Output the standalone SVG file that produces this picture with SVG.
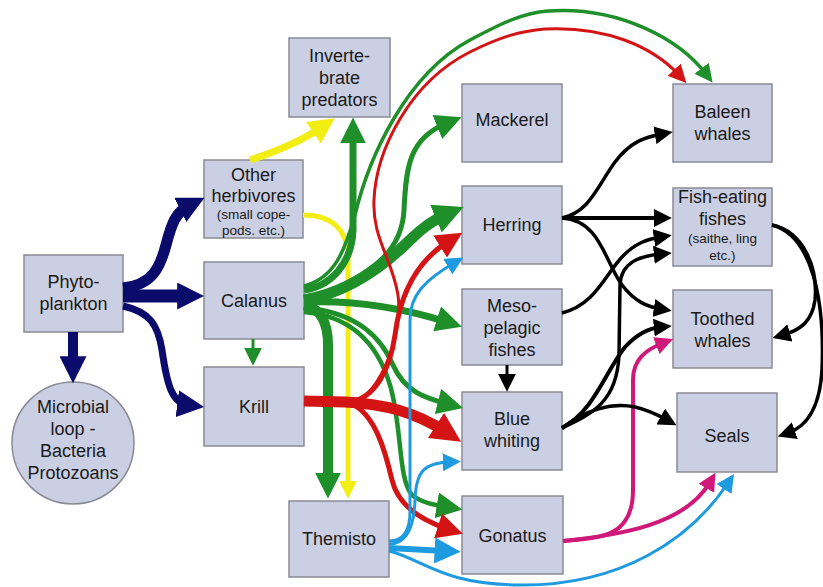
<svg xmlns="http://www.w3.org/2000/svg" width="823" height="587" viewBox="0 0 823 587">
<style>
.box{fill:#cbcfe3;stroke:#8a8a96;stroke-width:1.5}
.t{font-family:"Liberation Sans",Arial,sans-serif;font-size:18px;fill:#1a1a1a;text-anchor:middle}
.s{font-size:13.5px}
.c{fill:none;stroke-linecap:butt}
.navy{stroke:#0b0b6b}.green{stroke:#1f8f2a}.yellow{stroke:#f2ee14}.red{stroke:#d41414}.blue{stroke:#1e9be0}.mag{stroke:#d0187a}.black{stroke:#000}
</style>
<defs>
<marker id="nL" viewBox="0 0 10 10" refX="4" refY="5" markerWidth="27" markerHeight="27" markerUnits="userSpaceOnUse" orient="auto"><path d="M0,0 L10,5 L0,10 z" fill="#0b0b6b"/></marker>
<marker id="gM" viewBox="0 0 10 10" refX="4" refY="5" markerWidth="18" markerHeight="18" markerUnits="userSpaceOnUse" orient="auto"><path d="M0,0 L10,5 L0,10 z" fill="#1f8f2a"/></marker>
<marker id="gL" viewBox="0 0 10 10" refX="4" refY="5" markerWidth="26" markerHeight="26" markerUnits="userSpaceOnUse" orient="auto"><path d="M0,0 L10,5 L0,10 z" fill="#1f8f2a"/></marker>
<marker id="gX" viewBox="0 0 10 10" refX="4" refY="5" markerWidth="30" markerHeight="30" markerUnits="userSpaceOnUse" orient="auto"><path d="M0,0 L10,5 L0,10 z" fill="#1f8f2a"/></marker>
<marker id="yM" viewBox="0 0 10 10" refX="4" refY="5" markerWidth="18" markerHeight="18" markerUnits="userSpaceOnUse" orient="auto"><path d="M0,0 L10,5 L0,10 z" fill="#f2ee14"/></marker>
<marker id="yL" viewBox="0 0 10 10" refX="4" refY="5" markerWidth="26" markerHeight="26" markerUnits="userSpaceOnUse" orient="auto"><path d="M0,0 L10,5 L0,10 z" fill="#f2ee14"/></marker>
<marker id="rM" viewBox="0 0 10 10" refX="4" refY="5" markerWidth="18" markerHeight="18" markerUnits="userSpaceOnUse" orient="auto"><path d="M0,0 L10,5 L0,10 z" fill="#d41414"/></marker>
<marker id="rL" viewBox="0 0 10 10" refX="4" refY="5" markerWidth="26" markerHeight="26" markerUnits="userSpaceOnUse" orient="auto"><path d="M0,0 L10,5 L0,10 z" fill="#d41414"/></marker>
<marker id="rX" viewBox="0 0 10 10" refX="4" refY="5" markerWidth="30" markerHeight="30" markerUnits="userSpaceOnUse" orient="auto"><path d="M0,0 L10,5 L0,10 z" fill="#d41414"/></marker>
<marker id="bM" viewBox="0 0 10 10" refX="4" refY="5" markerWidth="18" markerHeight="18" markerUnits="userSpaceOnUse" orient="auto"><path d="M0,0 L10,5 L0,10 z" fill="#1e9be0"/></marker>
<marker id="bL" viewBox="0 0 10 10" refX="4" refY="5" markerWidth="26" markerHeight="26" markerUnits="userSpaceOnUse" orient="auto"><path d="M0,0 L10,5 L0,10 z" fill="#1e9be0"/></marker>
<marker id="mM" viewBox="0 0 10 10" refX="4" refY="5" markerWidth="18" markerHeight="18" markerUnits="userSpaceOnUse" orient="auto"><path d="M0,0 L10,5 L0,10 z" fill="#d0187a"/></marker>
<marker id="kM" viewBox="0 0 10 10" refX="4" refY="5" markerWidth="18" markerHeight="18" markerUnits="userSpaceOnUse" orient="auto"><path d="M0,0 L10,5 L0,10 z" fill="#000"/></marker>
</defs>

<g id="phytoplankton"><rect class="box" x="24" y="255" width="99" height="77"/><text class="t" x="73.5" y="288">Phyto-</text><text class="t" x="73.5" y="310">plankton</text></g>
<g id="microbial-loop"><circle class="box" cx="73" cy="443" r="61"/><text class="t" x="73" y="413">Microbial</text><text class="t" x="73" y="435">loop -</text><text class="t" x="73" y="457">Bacteria</text><text class="t" x="73" y="479">Protozoans</text></g>
<g id="other-herbivores"><rect class="box" x="204" y="160" width="99" height="78"/><text class="t" x="253.5" y="181">Other</text><text class="t" x="253.5" y="202">herbivores</text><text class="t s" x="253.5" y="219">(small cope-</text><text class="t s" x="253.5" y="235">pods. etc.)</text></g>
<g id="calanus"><rect class="box" x="204" y="262" width="100" height="77"/><text class="t" x="254" y="307">Calanus</text></g>
<g id="krill"><rect class="box" x="204" y="367" width="100" height="79"/><text class="t" x="254" y="413">Krill</text></g>
<g id="invertebrate-predators"><rect class="box" x="289" y="38" width="101" height="79"/><text class="t" x="339.5" y="62">Inverte-</text><text class="t" x="339.5" y="84">brate</text><text class="t" x="339.5" y="106">predators</text></g>
<g id="themisto"><rect class="box" x="289" y="501" width="100" height="76"/><text class="t" x="339" y="545">Themisto</text></g>
<g id="mackerel"><rect class="box" x="462" y="84" width="100" height="78"/><text class="t" x="512" y="126">Mackerel</text></g>
<g id="herring"><rect class="box" x="462" y="186" width="100" height="78"/><text class="t" x="512" y="231">Herring</text></g>
<g id="mesopelagic-fishes"><rect class="box" x="462" y="289" width="100" height="76"/><text class="t" x="512" y="312">Meso-</text><text class="t" x="512" y="334">pelagic</text><text class="t" x="512" y="356">fishes</text></g>
<g id="blue-whiting"><rect class="box" x="462" y="392" width="100" height="78"/><text class="t" x="512" y="425">Blue</text><text class="t" x="512" y="447">whiting</text></g>
<g id="gonatus"><rect class="box" x="462" y="496" width="101" height="78"/><text class="t" x="512.5" y="542">Gonatus</text></g>
<g id="baleen-whales"><rect class="box" x="673" y="84" width="99" height="78"/><text class="t" x="722.5" y="118">Baleen</text><text class="t" x="722.5" y="140">whales</text></g>
<g id="fish-eating-fishes"><rect class="box" x="673" y="188" width="99" height="78"/><text class="t" x="722.5" y="203">Fish-eating</text><text class="t" x="722.5" y="225">fishes</text><text class="t s" x="722.5" y="243">(saithe, ling</text><text class="t s" x="722.5" y="260">etc.)</text></g>
<g id="toothed-whales"><rect class="box" x="673" y="290" width="99" height="78"/><text class="t" x="722.5" y="325">Toothed</text><text class="t" x="722.5" y="347">whales</text></g>
<g id="seals"><rect class="box" x="677" y="393" width="100" height="79"/><text class="t" x="727" y="442">Seals</text></g>

<g id="connectors">
<!-- navy: phytoplankton -->
<path class="c navy" stroke-width="11" d="M123,288 C152,285 160,268 166,245 C172,222 176,212 190,205" marker-end="url(#nL)"/>
<path class="c navy" stroke-width="13" d="M123,296 L188,296" marker-end="url(#nL)"/>
<path class="c navy" stroke-width="7" d="M123,306 C150,312 158,325 162,350 C167,385 172,403 188,405" marker-end="url(#nL)"/>
<path class="c navy" stroke-width="10" d="M73,332 L73,367" marker-end="url(#nL)"/>
<!-- yellow: other herbivores -->
<path class="c yellow" stroke-width="7" d="M250,160 C275,152 300,142 322,127" marker-end="url(#yL)"/>
<path class="c yellow" stroke-width="5" d="M303,215 C330,215 348,228 348,258 L348,488" marker-end="url(#yM)"/>
<!-- green: calanus -->
<path class="c green" stroke-width="3" d="M253,339 L253,355" marker-end="url(#gM)"/>
<path class="c green" stroke-width="7" d="M304,290 C332,286 352,262 353,230 L353,133" marker-end="url(#gL)"/>
<path class="c green" stroke-width="3.5" d="M304,286 C335,278 345,250 355,215 C368,160 405,75 470,40 C500,24 522,13 548,11 C620,6 680,40 706,74" marker-end="url(#gM)"/>
<path class="c green" stroke-width="5" d="M330,292 C375,270 402,250 404,210 C406,165 410,138 447,123" marker-end="url(#gL)"/>
<path class="c green" stroke-width="11" d="M304,300 C350,292 385,265 410,240 C425,225 435,219 447,214" marker-end="url(#gX)"/>
<path class="c green" stroke-width="7" d="M304,302 C350,300 400,307 447,322" marker-end="url(#gL)"/>
<path class="c green" stroke-width="5" d="M304,308 C360,312 382,340 393,365 C405,392 425,398 448,404" marker-end="url(#gL)"/>
<path class="c green" stroke-width="4.5" d="M304,312 C352,316 378,345 390,385 C402,425 398,480 412,495 C422,503 435,505 447,507" marker-end="url(#gL)"/>
<path class="c green" stroke-width="10" d="M304,305 C320,308 328,322 328,345 L328,483" marker-end="url(#gL)"/>
<!-- red: krill -->
<path class="c red" stroke-width="3" d="M352,402 C382,396 403,330 398,295 C392,258 372,238 374,200 C376,150 410,82 470,52 C500,37 520,31 545,29 C605,26 652,46 679,75" marker-end="url(#rM)"/>
<path class="c red" stroke-width="5" d="M350,402 C375,398 390,370 395,335 C400,295 415,262 449,241" marker-end="url(#rL)"/>
<path class="c red" stroke-width="5" d="M352,404 C375,415 385,450 392,480 C398,505 420,520 448,529" marker-end="url(#rL)"/>
<path class="c red" stroke-width="11" d="M304,401 L345,402 C385,404 415,412 446,432" marker-end="url(#rX)"/>
<!-- blue: themisto -->
<path class="c blue" stroke-width="3" d="M389,541 C404,541 410,530 410,512 L410,320 C410,295 425,280 454,263" marker-end="url(#bM)"/>
<path class="c blue" stroke-width="3" d="M389,544 C405,544 414,530 415,500 C416,470 425,463 450,462" marker-end="url(#bM)"/>
<path class="c blue" stroke-width="6" d="M389,548 L445,551" marker-end="url(#bL)"/>
<path class="c blue" stroke-width="3" d="M389,551 C425,560 440,584 520,585 C620,586 690,540 728,483" marker-end="url(#bM)"/>
<!-- magenta: gonatus -->
<path class="c mag" stroke-width="4" d="M563,541 C605,538 633,535 633,490 L633,380 C633,360 645,350 663,343" marker-end="url(#mM)"/>
<path class="c mag" stroke-width="4" d="M563,541 C620,535 685,525 710,482" marker-end="url(#mM)"/>
<!-- black -->
<path class="c black" stroke-width="3.5" d="M562,218 C590,212 598,185 615,162 C630,142 645,137 662,134" marker-end="url(#kM)"/>
<path class="c black" stroke-width="4" d="M562,218 L661,218" marker-end="url(#kM)"/>
<path class="c black" stroke-width="3.5" d="M562,218 C600,220 605,262 622,285 C635,302 648,307 661,309" marker-end="url(#kM)"/>
<path class="c black" stroke-width="3.5" d="M562,313 C595,305 605,275 622,257 C635,243 648,239 661,237" marker-end="url(#kM)"/>
<path class="c black" stroke-width="3" d="M507,365 L507,381" marker-end="url(#kM)"/>
<path class="c black" stroke-width="3.5" d="M562,428 C592,414 617,402 619,355 L620,285 C621,262 640,256 661,254" marker-end="url(#kM)"/>
<path class="c black" stroke-width="4" d="M562,428 C595,410 605,372 625,347 C638,333 650,328 661,327" marker-end="url(#kM)"/>
<path class="c black" stroke-width="3.5" d="M562,428 C585,410 612,402 635,407 C648,410 658,415 667,420" marker-end="url(#kM)"/>
<path class="c black" stroke-width="3.5" d="M772,225 C805,232 818,270 815,300 C812,322 800,330 783,335" marker-end="url(#kM)"/>
<path class="c black" stroke-width="3.5" d="M772,225 C812,235 825,300 822,370 C820,405 808,426 788,433" marker-end="url(#kM)"/>
</g>
</svg>
